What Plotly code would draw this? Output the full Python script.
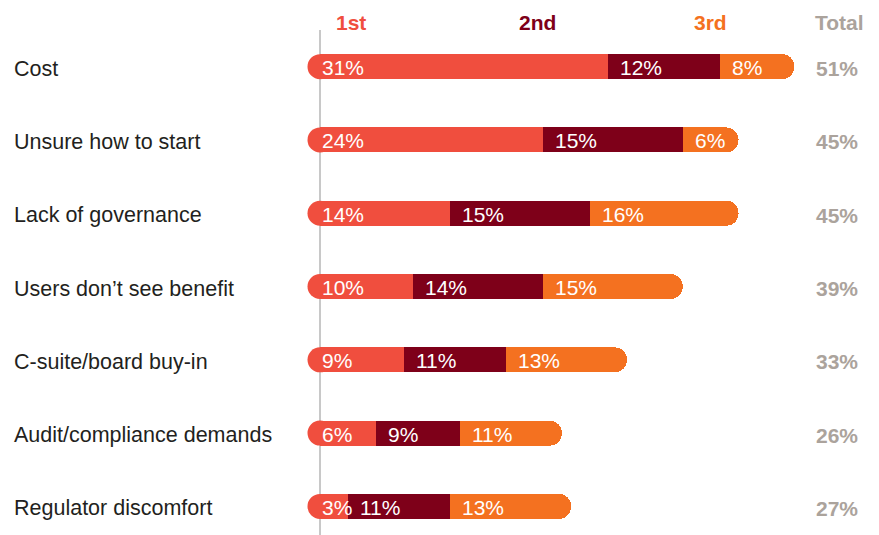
import plotly.graph_objects as go

categories = ["Cost", "Unsure how to start", "Lack of governance", "Users don\u2019t see benefit",
              "C-suite/board buy-in", "Audit/compliance demands", "Regulator discomfort"]
first = [31, 24, 14, 10, 9, 6, 3]
second = [12, 15, 15, 14, 11, 9, 11]
third = [8, 6, 16, 15, 13, 11, 13]
totals = [51, 45, 45, 39, 33, 26, 27]
series_names = ["1st", "2nd", "3rd"]
series_colors = ["#F04E3E", "#7E0019", "#F47120"]
total_color = "#ABA39C"
FONT = "Liberation Sans, Arial, sans-serif"

W, H = 879, 535
ML, MR, MT, MB = 305, 1, 30, 0
PX_PER_UNIT = 9.3
XMIN = -(320 - ML) / PX_PER_UNIT
XMAX = XMIN + (W - ML - MR) / PX_PER_UNIT
YRANGE = [6.39, -0.5]
BAR_W = 0.34

fig = go.Figure()
series = [first, second, third]
for name, vals, col in zip(series_names, series, series_colors):
    fig.add_trace(go.Bar(y=categories, x=vals, orientation="h", name=name,
                         marker=dict(color=col, line=dict(width=0)), width=BAR_W,
                         hoverinfo="skip"))

shapes = [dict(type="line", xref="x", yref="paper", x0=0, x1=0, y0=0, y1=1,
               line=dict(color="#C8C8C8", width=2), layer="below")]
for i, c in enumerate(categories):
    shapes.append(dict(type="circle", xref="x", yref="y", xsizemode="pixel", ysizemode="pixel",
                       xanchor=0, yanchor=i, x0=-12.5, x1=12.5, y0=-12.5, y1=12.5,
                       fillcolor=series_colors[0], line=dict(width=0), layer="below"))

annotations = []
for i, c in enumerate(categories):
    annotations.append(dict(xref="paper", yref="y", x=(12 - ML) / (W - ML - MR), y=c,
                            yshift=-2, xanchor="left", yanchor="middle", showarrow=False, text=c,
                            font=dict(family=FONT, size=21.5, color="#231F20")))
    start = 0
    for k, vals in enumerate(series):
        annotations.append(dict(xref="x", yref="y", x=start, y=c, xanchor="left", yanchor="middle",
                                xshift=0 if k == 0 else 10, yshift=-1, showarrow=False,
                                text=f"{vals[i]}%",
                                font=dict(family=FONT, size=21, color="white")))
        start += vals[i]
    annotations.append(dict(xref="x", yref="y", x=55.6, y=c, xanchor="center", yanchor="middle",
                            yshift=-2, showarrow=False, text=f"<b>{totals[i]}%</b>",
                            font=dict(family=FONT, size=21, color=total_color)))

header_x = [3.3, 23.4, 42.0, 55.9]
header_text = series_names + ["Total"]
header_cols = series_colors + [total_color]
for hx, ht, hc in zip(header_x, header_text, header_cols):
    annotations.append(dict(xref="x", yref="paper", x=hx, y=1, yshift=8, xanchor="center",
                            yanchor="middle", showarrow=False, text=f"<b>{ht}</b>",
                            font=dict(family=FONT, size=21, color=hc)))

fig.update_layout(
    width=W, height=H, margin=dict(l=ML, r=MR, t=MT, b=MB),
    barmode="stack", barcornerradius=12, showlegend=False,
    plot_bgcolor="white", paper_bgcolor="white",
    xaxis=dict(range=[XMIN, XMAX], visible=False, fixedrange=True),
    yaxis=dict(range=YRANGE, visible=False, fixedrange=True, categoryorder="array",
               categoryarray=categories),
    shapes=shapes, annotations=annotations,
)
fig.write_html("out.html", config={"displayModeBar": False},
               post_script="document.body.style.margin='0';")
